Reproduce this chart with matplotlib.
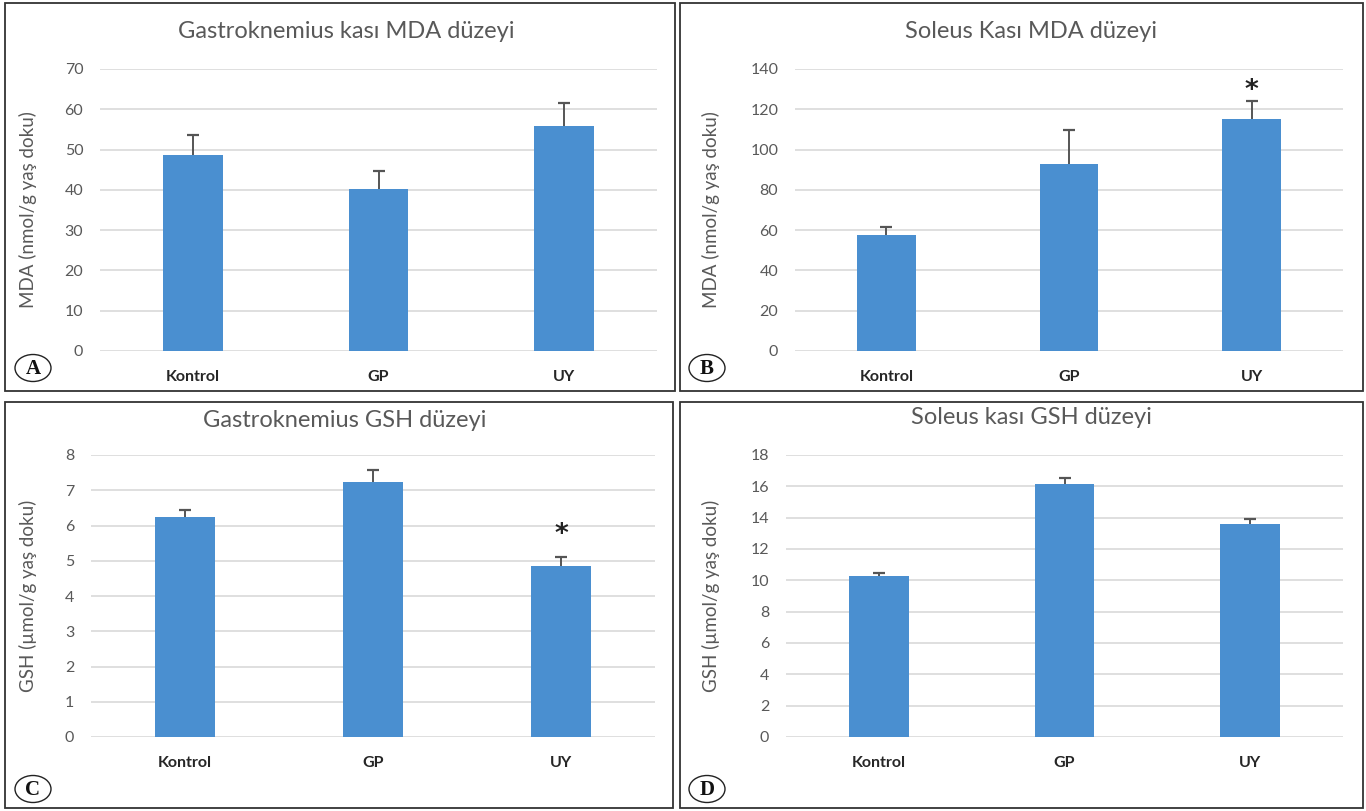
import matplotlib.pyplot as plt
from matplotlib.patches import Rectangle, Ellipse

# Group names shared by all four panels
groups = ['Kontrol', 'GP', 'UY']

# Gastroknemius MDA
gastro_mda = [48.6, 40.1, 55.9]
gastro_mda_err = [4.9, 4.7, 5.6]

# Soleus MDA
soleus_mda = [57.4, 92.7, 115.0]
soleus_mda_err = [4.3, 17.0, 9.1]

# Gastroknemius GSH
gastro_gsh = [6.23, 7.22, 4.85]
gastro_gsh_err = [0.21, 0.35, 0.27]

# Soleus GSH
soleus_gsh = [10.3, 16.13, 13.57]
soleus_gsh_err = [0.2, 0.4, 0.32]

W, H = 1366, 811
BAR_COLOR = '#4A8FD0'
TEXT_GRAY = '#595959'
FONT = 'Lato'

plt.rcParams['font.family'] = [FONT, 'DejaVu Sans']

fig = plt.figure(figsize=(W / 100, H / 100), dpi=100)
fig.patch.set_facecolor('white')


def fx(x):
    return x / W


def fy(y):
    return 1 - y / H


def panel(box, plot_px, title, title_xy, ylabel, ylabel_x, values, errs,
          ymax, ystep, letter, letter_xy, star=None):
    x0, y0, x1, y1 = box
    # panel frame
    fig.patches.append(Rectangle((fx(x0), fy(y1)), fx(x1 - x0), (y1 - y0) / H,
                                 transform=fig.transFigure, fill=False,
                                 edgecolor='#333333', linewidth=1.3))

    px0, py0, px1, py1 = plot_px
    ax = fig.add_axes([fx(px0), fy(py1), fx(px1 - px0), (py1 - py0) / H])
    xs = range(len(values))
    ax.bar(xs, values, width=0.32, color=BAR_COLOR, zorder=3)
    # upper error bars only
    _, caps, _ = ax.errorbar(xs, values, yerr=[[0] * len(errs), errs],
                             fmt='none', ecolor='#555555', elinewidth=1.4,
                             capsize=4, capthick=1.6, zorder=4)
    caps[0].set_visible(False)
    ax.set_xlim(-0.5, len(values) - 0.5)
    ax.set_ylim(0, ymax)
    ax.set_yticks([v * ystep for v in range(int(ymax / ystep) + 1)])
    ax.yaxis.grid(True, color='#D9D9D9', linewidth=1.2, zorder=0)
    ax.set_axisbelow(True)
    for s in ax.spines.values():
        s.set_visible(False)
    ax.tick_params(axis='both', length=0)
    ax.tick_params(axis='y', labelsize=11.5, labelcolor=TEXT_GRAY, pad=12)
    ax.tick_params(axis='x', labelsize=11.5, labelcolor='#262626', pad=14)
    ax.set_xticks(list(xs))
    ax.set_xticklabels(groups, fontweight='bold')
    ax.set_ylabel(ylabel, fontsize=13.5, color=TEXT_GRAY)
    ax.yaxis.set_label_coords((ylabel_x - px0) / (px1 - px0), 0.5)

    fig.text(fx(title_xy[0]), fy(title_xy[1]), title, ha='center',
             va='center', fontsize=17, color=TEXT_GRAY)

    if star is not None:
        idx, yv = star
        ax.text(idx, yv, '*', ha='center', va='center', fontsize=19,
                fontweight='bold', family='DejaVu Sans', color='#222222',
                zorder=5)

    # circled panel letter
    lx, ly = letter_xy
    fig.patches.append(Ellipse((fx(lx), fy(ly)), fx(36), 27 / H,
                               transform=fig.transFigure, fill=False,
                               edgecolor='#222222', linewidth=1.0))
    fig.text(fx(lx), fy(ly + 1), letter, ha='center', va='center',
             fontsize=15, fontweight='bold', family='Liberation Serif',
             color='#111111')
    return ax


panel((5, 3, 675, 391), (100, 69, 657, 351),
      'Gastroknemius kası MDA düzeyi', (346, 31),
      'MDA (nmol/g yaş doku)', 37, gastro_mda, gastro_mda_err,
      70, 10, 'A', (33, 368))

panel((680, 3, 1363, 391), (795, 69, 1343, 351),
      'Soleus Kası MDA düzeyi', (1031, 31),
      'MDA (nmol/g yaş doku)', 720, soleus_mda, soleus_mda_err,
      140, 20, 'B', (707, 368), star=(2, 129))

panel((5, 402, 673, 808), (91, 455, 655, 737),
      'Gastroknemius GSH düzeyi', (345, 420),
      'GSH (µmol/g yaş doku)', 37, gastro_gsh, gastro_gsh_err,
      8, 1, 'C', (33, 789), star=(2, 5.72))

panel((680, 402, 1363, 808), (786, 455, 1343, 737),
      'Soleus kası GSH düzeyi', (1031, 418),
      'GSH (µmol/g yaş doku)', 720, soleus_gsh, soleus_gsh_err,
      18, 2, 'D', (707, 789))

fig.savefig('out.png', dpi=100, facecolor='white')
